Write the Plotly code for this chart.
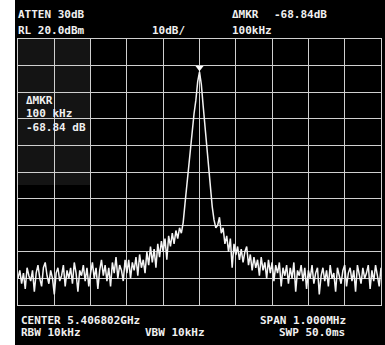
import numpy as np
import plotly.graph_objects as go

# Frequency offset from the centre (kHz), 5 kHz per trace point
freq_khz = list(range(-500, 505, 5))

# Displayed trace level (dBm), read point by point
level_dbm = [
    # -500 .. -205 kHz : noise floor
    -70, -67, -72, -68, -74, -66, -69, -71, -67, -75,
    -68, -65, -70, -73, -66, -64, -69, -72, -67, -70,
    -76, -68, -66, -71, -69, -65, -73, -67, -70, -66,
    -72, -64, -68, -75, -67, -69, -65, -71, -66, -73,
    -68, -64, -70, -66, -74, -67, -63, -69, -65, -71,
    -66, -73, -64, -68, -62, -70, -65, -67, -71, -63,
    # -200 .. -50 kHz : lower shoulder
    -68, -63, -70, -64, -67, -62, -69, -61, -66, -63,
    -68, -60, -65, -58, -64, -59, -66, -57, -62, -56,
    -60, -55, -63, -54, -58, -53, -57, -52, -55, -51, -53,
    # -45 .. +45 kHz : carrier
    -49, -42, -35, -28, -20, -14, -8, -3, 4, 7.6,
    3, -5, -13, -21, -30, -37, -43, -48, -51,
    # +50 .. +500 kHz : upper shoulder and noise floor
    -50, -47, -53, -51, -57, -54, -60, -55, -66, -57,
    -61.2, -58, -63, -59, -64, -60, -58, -65, -61, -67,
    -62, -66, -63, -69, -62, -67, -64, -70, -63, -68, -64,
    -71, -65, -68, -64, -73, -66, -69, -65, -72, -66,
    -70, -64, -75, -67, -69, -65, -71, -66, -74, -67,
    -70, -65, -72, -68, -66, -76, -69, -66, -71, -67,
    -73, -65, -70, -68, -75, -66, -69, -72, -67, -65,
    -73, -68, -66, -71, -67, -75, -65, -69, -72, -66,
    -70, -68, -65, -74, -67, -71, -65, -69, -73, -66,
]

# Peak marker
marker_khz = [0]
marker_dbm = [9.2]

# Screen annotations: (text, left px, centre px)
top_texts = [
    ("ATTEN 30dB", 16, 14),
    ("ΔMKR", 230, 14),
    ("-68.84dB", 272, 14),
    ("RL 20.0dBm", 16, 30),
    ("10dB/", 150, 30),
    ("100kHz", 230, 30),
]
inner_texts = [
    ("ΔMKR", 24, 100),
    ("100 kHz", 24, 113),
    ("-68.84 dB", 24, 127),
]
bottom_texts = [
    ("CENTER 5.406802GHz", 19, 320),
    ("SPAN 1.000MHz", 258, 320),
    ("RBW 10kHz", 19, 333),
    ("VBW 10kHz", 143, 333),
    ("SWP 50.0ms", 277, 333),
]

W, H = 385, 345
ML, MR, MT, MB = 18, 4, 39, 40
PW, PH = W - ML - MR, H - MT - MB


def px(x):
    return (x - ML) / PW


def py(y):
    return (MT + PH - y) / PH


fig = go.Figure()
fig.add_trace(go.Scatter(
    x=freq_khz, y=level_dbm, mode="lines",
    line=dict(color="#f4f4f4", width=1.5),
    hoverinfo="skip", showlegend=False,
))
fig.add_trace(go.Scatter(
    x=marker_khz, y=marker_dbm, mode="markers",
    marker=dict(symbol="triangle-down", size=7, color="white"),
    hoverinfo="skip", showlegend=False,
))

font = dict(family="DejaVu Sans Mono", size=11, color="#f0f0f0")
annotations = []
for text, x, y in top_texts + inner_texts + bottom_texts:
    annotations.append(dict(
        text="<b>%s</b>" % text, xref="paper", yref="paper",
        x=px(x), y=py(y), xanchor="left", yanchor="middle",
        showarrow=False, font=font,
    ))

shapes = [
    # white margin at the left edge of the screen photo
    dict(type="rect", xref="paper", yref="paper",
         x0=px(0), x1=px(15), y0=py(H), y1=py(0),
         fillcolor="white", line=dict(width=0), layer="above"),
    # faint haze over the upper-left readout area
    dict(type="rect", xref="paper", yref="paper",
         x0=px(18), x1=px(91), y0=py(185), y1=py(39),
         fillcolor="rgba(255,255,255,0.08)", line=dict(width=0), layer="below"),
]

fig.update_layout(
    width=W, height=H,
    margin=dict(l=ML, r=MR, t=MT, b=MB),
    paper_bgcolor="black", plot_bgcolor="black",
    annotations=annotations, shapes=shapes,
    xaxis=dict(range=[-500, 500], dtick=100, tick0=-500,
               showgrid=True, gridcolor="#cfcfcf", gridwidth=1,
               showticklabels=False, zeroline=False, ticks="",
               showline=True, linecolor="#cfcfcf", mirror=True),
    yaxis=dict(range=[-80, 20], dtick=10, tick0=-80,
               showgrid=True, gridcolor="#cfcfcf", gridwidth=1,
               showticklabels=False, zeroline=False, ticks="",
               showline=True, linecolor="#cfcfcf", mirror=True),
)

fig.write_html("out.html")
